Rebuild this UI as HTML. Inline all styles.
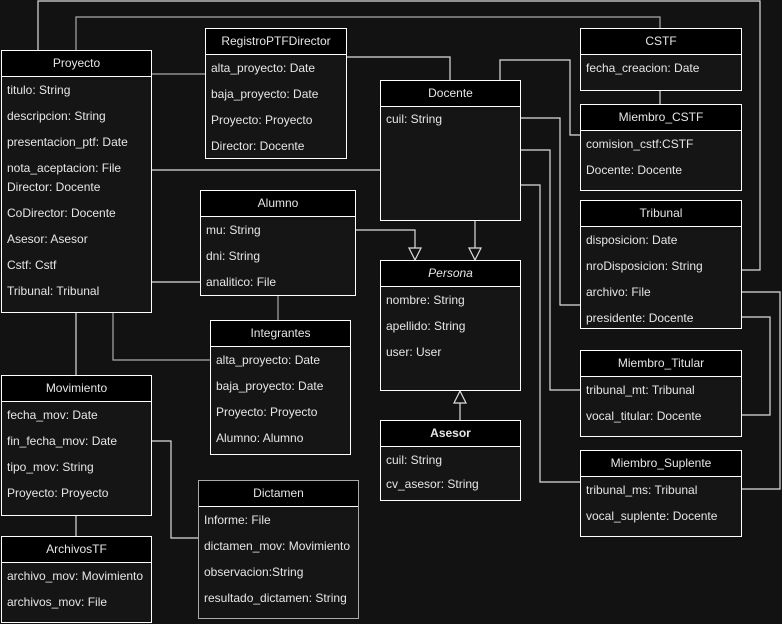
<!DOCTYPE html>
<html><head><meta charset="utf-8"><style>
body{margin:0;width:782px;height:624px;background:#121212;overflow:hidden;position:relative;font-family:"Liberation Sans",sans-serif;font-size:12px;color:#e6e6e6}
svg{position:absolute;left:0;top:0}
.b{position:absolute;border:1px solid #fff;background:#151515;box-sizing:border-box}
.h{height:25px;background:#000;border-bottom:1px solid #fff;text-align:center;line-height:25px}
.r{position:absolute;left:5px;white-space:nowrap}
</style></head><body>
<svg width="782" height="624" fill="none" stroke-width="1.2">
<g stroke="#ddd">
<path d="M38 50V1H760V270H741"/>
<path d="M76 50V17H660V28" stroke="#aaa"/>
<path d="M151 74H205" stroke="#aaa"/>
<path d="M346 57H450V80"/>
<path d="M151 170H380"/>
<path d="M500 80V60H570V135H580"/>
<path d="M660 90V104"/>
<path d="M520 118H560V305H580"/>
<path d="M520 150H550V390H580"/>
<path d="M520 185H540V482H580"/>
<path d="M741 317H770V415H741"/>
<path d="M741 292H780V489H741"/>
<path d="M355 230H415V248"/>
<path d="M475 220V248"/>
<path d="M151 282H200"/>
<path d="M278 295V320" stroke="#aaa"/>
<path d="M113 312V360H210" stroke="#aaa"/>
<path d="M76 312V375"/>
<path d="M151 441H171V538H198"/>
<path d="M76 515V536"/>
<path d="M460 420V403"/>
<path d="M409 248H421L415 260Z M469 248H481L475 260Z M460 391L454 403H466Z" fill="#121212"/>
</g></svg>

<div class="b" style="left:1px;top:50px;width:151px;height:263px"><div class="h">Proyecto</div>
<div class="r" style="top:32px">titulo: String</div><div class="r" style="top:58px">descripcion: String</div><div class="r" style="top:84px">presentacion_ptf: Date</div><div class="r" style="top:110px">nota_aceptacion: File</div><div class="r" style="top:129px">Director: Docente</div><div class="r" style="top:155px">CoDirector: Docente</div><div class="r" style="top:181px">Asesor: Asesor</div><div class="r" style="top:207px">Cstf: Cstf</div><div class="r" style="top:233px">Tribunal: Tribunal</div></div>

<div class="b" style="left:205px;top:28px;width:142px;height:131px"><div class="h">RegistroPTFDirector</div>
<div class="r" style="top:32px">alta_proyecto: Date</div><div class="r" style="top:58px">baja_proyecto: Date</div><div class="r" style="top:84px">Proyecto: Proyecto</div><div class="r" style="top:110px">Director: Docente</div></div>

<div class="b" style="left:380px;top:80px;width:141px;height:141px"><div class="h">Docente</div>
<div class="r" style="top:31px">cuil: String</div></div>

<div class="b" style="left:580px;top:28px;width:162px;height:63px"><div class="h">CSTF</div>
<div class="r" style="top:32px">fecha_creacion: Date</div></div>

<div class="b" style="left:580px;top:104px;width:162px;height:87px"><div class="h">Miembro_CSTF</div>
<div class="r" style="top:32px">comision_cstf:CSTF</div><div class="r" style="top:58px">Docente: Docente</div></div>

<div class="b" style="left:580px;top:200px;width:162px;height:129px"><div class="h">Tribunal</div>
<div class="r" style="top:32px">disposicion: Date</div><div class="r" style="top:58px">nroDisposicion: String</div><div class="r" style="top:84px">archivo: File</div><div class="r" style="top:110px">presidente: Docente</div></div>

<div class="b" style="left:200px;top:190px;width:156px;height:106px"><div class="h">Alumno</div>
<div class="r" style="top:32px">mu: String</div><div class="r" style="top:58px">dni: String</div><div class="r" style="top:84px">analitico: File</div></div>

<div class="b" style="left:380px;top:260px;width:141px;height:131px"><div class="h" style="font-style:italic">Persona</div>
<div class="r" style="top:32px">nombre: String</div><div class="r" style="top:58px">apellido: String</div><div class="r" style="top:84px">user: User</div></div>

<div class="b" style="left:210px;top:320px;width:141px;height:135px"><div class="h">Integrantes</div>
<div class="r" style="top:32px">alta_proyecto: Date</div><div class="r" style="top:58px">baja_proyecto: Date</div><div class="r" style="top:84px">Proyecto: Proyecto</div><div class="r" style="top:110px">Alumno: Alumno</div></div>

<div class="b" style="left:1px;top:375px;width:151px;height:141px"><div class="h">Movimiento</div>
<div class="r" style="top:32px">fecha_mov: Date</div><div class="r" style="top:58px">fin_fecha_mov: Date</div><div class="r" style="top:84px">tipo_mov: String</div><div class="r" style="top:110px">Proyecto: Proyecto</div></div>

<div class="b" style="left:580px;top:350px;width:162px;height:87px"><div class="h">Miembro_Titular</div>
<div class="r" style="top:32px">tribunal_mt: Tribunal</div><div class="r" style="top:58px">vocal_titular: Docente</div></div>

<div class="b" style="left:380px;top:420px;width:141px;height:81px"><div class="h" style="font-weight:bold">Asesor</div>
<div class="r" style="top:32px">cuil: String</div><div class="r" style="top:56px">cv_asesor: String</div></div>

<div class="b" style="left:580px;top:450px;width:162px;height:87px"><div class="h">Miembro_Suplente</div>
<div class="r" style="top:32px">tribunal_ms: Tribunal</div><div class="r" style="top:58px">vocal_suplente: Docente</div></div>

<div class="b" style="left:198px;top:480px;width:161px;height:139px;border-color:#aaa"><div class="h">Dictamen</div>
<div class="r" style="top:32px">Informe: File</div><div class="r" style="top:58px">dictamen_mov: Movimiento</div><div class="r" style="top:84px">observacion:String</div><div class="r" style="top:110px">resultado_dictamen: String</div></div>

<div class="b" style="left:1px;top:536px;width:151px;height:87px"><div class="h">ArchivosTF</div>
<div class="r" style="top:32px">archivo_mov: Movimiento</div><div class="r" style="top:58px">archivos_mov: File</div></div>
</body></html>
